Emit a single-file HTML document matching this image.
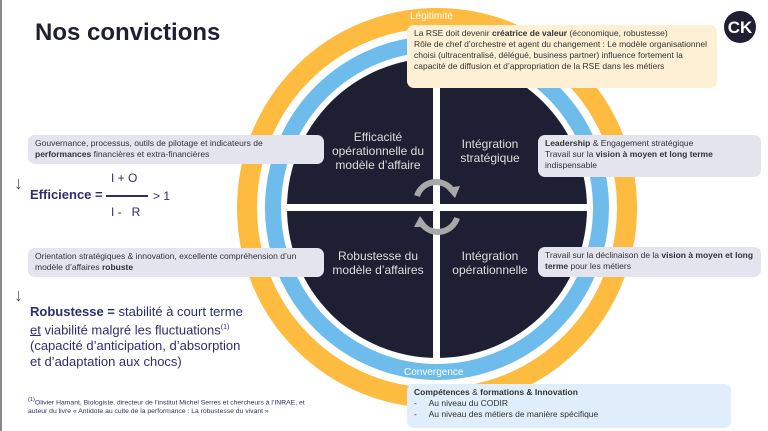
<!DOCTYPE html>
<html><head><meta charset="utf-8"><style>
body{margin:0;width:768px;height:431px;overflow:hidden;background:#fff;font-family:"Liberation Sans",sans-serif;position:relative}
.a{position:absolute}
.box{position:absolute;border-radius:7px;font-size:8.5px;line-height:11px;color:#333;padding:3px 7px;box-sizing:border-box}
.g{background:#e4e4ee}
.q{position:absolute;color:#ddd;font-size:12px;line-height:14px;text-align:center}
.nav{color:#2e2e6e}
</style></head><body>
<div class="a" style="left:0;top:0;width:2px;height:431px;background:#888"></div>
<div class="a" style="left:35px;top:19px;font-size:24px;font-weight:bold;color:#1f1f33">Nos convictions</div>

<svg class="a" style="left:0;top:0" width="768" height="431">
<circle cx="437" cy="208" r="190" fill="none" stroke="#fdbb3f" stroke-width="20"/>
<circle cx="437" cy="208" r="164" fill="none" stroke="#6dbcec" stroke-width="16"/>
<circle cx="437" cy="208" r="150" fill="#1f1f33"/>
<rect x="433" y="55" width="7" height="306" fill="#fff"/>
<rect x="285" y="204" width="304" height="7" fill="#fff"/>
<path d="M417 196 A20 20 0 0 1 452 190" fill="none" stroke="#a8a8a8" stroke-width="6"/>
<polygon points="446,188 460,186 455,198" fill="#a8a8a8"/>
<path d="M457 218 A20 20 0 0 1 422 224" fill="none" stroke="#a8a8a8" stroke-width="6"/>
<polygon points="428,227 414,227 420,216" fill="#a8a8a8"/>
<circle cx="740" cy="27" r="16" fill="#1f1f33"/>
<text x="740" y="33" font-size="17" font-weight="bold" fill="#fff" text-anchor="middle" font-family="Liberation Sans">CK</text>
</svg>

<div class="a" style="left:410px;top:11px;font-size:10px;color:#fff">Légitimité</div>
<div class="a" style="left:404px;top:367px;font-size:10px;color:#fff">Convergence</div>

<div class="q" style="left:318px;top:130px;width:120px">Efficacité<br>opérationnelle du<br>modèle d’affaire</div>
<div class="q" style="left:440px;top:137px;width:100px">Intégration<br>stratégique</div>
<div class="q" style="left:318px;top:249px;width:120px">Robustesse du<br>modèle d’affaires</div>
<div class="q" style="left:440px;top:249px;width:100px">Intégration<br>opérationnelle</div>

<div class="box" style="left:407px;top:25px;width:310px;height:63px;background:#fdf0d5">La RSE doit devenir <b>créatrice de valeur</b> (économique, robustesse)<br>Rôle de chef d’orchestre et agent du changement : Le modèle organisationnel choisi (ultracentralisé, délégué, business partner) influence fortement la capacité de diffusion et d’appropriation de la RSE dans les métiers</div>

<div class="box g" style="left:28px;top:135px;width:296px;height:29px">Gouvernance, processus, outils de pilotage et indicateurs de <b>performances</b> financières et extra-financières</div>
<div class="box g" style="left:28px;top:248px;width:296px;height:29px">Orientation stratégiques &amp; innovation, excellente compréhension d’un modèle d’affaires <b>robuste</b></div>
<div class="box g" style="left:538px;top:135px;width:223px;height:42px"><b>Leadership</b> &amp; Engagement stratégique<br>Travail sur la <b>vision à moyen et long terme</b> indispensable</div>
<div class="box g" style="left:538px;top:247px;width:223px;height:30px">Travail sur la déclinaison de la <b>vision à moyen et long terme</b> pour les métiers</div>

<div class="box" style="left:407px;top:384px;width:324px;height:44px;background:#dfeefa"><b>Compétences</b> &amp; <b>formations &amp; Innovation</b><br>-&nbsp;&nbsp;&nbsp;&nbsp;&nbsp;Au niveau du CODIR<br>-&nbsp;&nbsp;&nbsp;&nbsp;&nbsp;Au niveau des métiers de manière spécifique</div>

<div class="a" style="left:14px;top:173px;font-size:18px;color:#555">↓</div>
<div class="a nav" style="left:30px;top:187px;font-size:13px;font-weight:bold">Efficience =</div>
<div class="a nav" style="left:111px;top:171px;font-size:12px">I + O</div>
<div class="a" style="left:106px;top:195px;width:42px;height:2px;background:#2e2e6e"></div>
<div class="a nav" style="left:153px;top:189px;font-size:12px">&gt; 1</div>
<div class="a nav" style="left:111px;top:205px;font-size:12px">I -&nbsp;&nbsp;&nbsp;R</div>

<div class="a" style="left:14px;top:285px;font-size:18px;color:#555">↓</div>
<div class="a nav" style="left:30px;top:304px;font-size:13px;line-height:16px">
<b>Robustesse =</b> stabilité à court terme<br><u>et</u> viabilité malgré les fluctuations<sup style="font-size:7px">(1)</sup><br>(capacité d’anticipation, d’absorption<br>et d’adaptation aux chocs)</div>

<div class="a nav" style="left:28px;top:396px;font-size:6.8px;line-height:9px"><sup>(1)</sup>Olivier Hamant, Biologiste, directeur de l’institut Michel Serres et chercheurs à l’INRAE, et<br>auteur du livre « Antidote au culte de la performance : La robustesse du vivant »</div>
</body></html>
